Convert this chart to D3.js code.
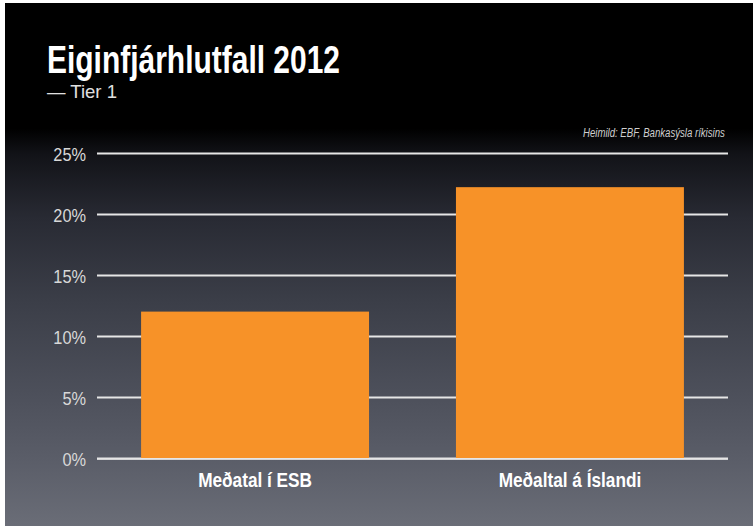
<!DOCTYPE html>
<html><head><meta charset="utf-8">
<script src="https://cdn.jsdelivr.net/npm/d3@7"></script>
<style>
html,body{margin:0;padding:0;background:#fff;}
svg{display:block;}
</style></head>
<body>
<svg id="chart" width="753" height="526"></svg>
<script>
const categories = ["Meðatal í ESB", "Meðaltal á Íslandi"];
const values = [12.0, 22.2];
const tickValues = [0, 5, 10, 15, 20, 25];
const tickLabels = ["0%", "5%", "10%", "15%", "20%", "25%"];
const title = "Eiginfjárhlutfall 2012";
const subtitle = "— Tier 1";
const source = "Heimild: EBF, Bankasýsla ríkisins";

const W = 753, H = 526;
const svg = d3.select("#chart");
const font = "'Liberation Sans', Arial, sans-serif";

function condense(sel, factor) {
  sel.each(function() {
    const len = this.getComputedTextLength();
    d3.select(this).attr("textLength", len * factor).attr("lengthAdjust", "spacingAndGlyphs");
  });
}
function fitWidth(sel, w) {
  sel.attr("textLength", w).attr("lengthAdjust", "spacingAndGlyphs");
}

const defs = svg.append("defs");
const grad = defs.append("linearGradient").attr("id","bg").attr("x1",0).attr("y1",0).attr("x2",0).attr("y2",1);
[[0,"#000000"],[0.24,"#000000"],[0.29,"#121318"],[0.41,"#282a33"],[0.57,"#3b3e48"],[0.76,"#4e515c"],[0.87,"#5a5d68"],[1,"#6a6d77"]]
  .forEach(([o,c]) => grad.append("stop").attr("offset",o).attr("stop-color",c));

svg.append("rect").attr("x",5).attr("y",3).attr("width",W-5).attr("height",H-3).attr("fill","url(#bg)");

const margin = {left: 97, right: 25};
const x = d3.scaleBand().domain(categories).range([margin.left, W - margin.right]).paddingInner(0.276).paddingOuter(0.14);
const y = d3.scaleLinear().domain([0, 25]).range([458, 153]);

// gridlines + y tick labels
const gridAxis = d3.axisLeft(y).tickValues(tickValues).tickSize(-(W - margin.right - margin.left)).tickFormat((d,i) => tickLabels[i]).tickPadding(11);
const g = svg.append("g").attr("transform", `translate(${margin.left},0)`).call(gridAxis);
g.select(".domain").remove();
g.selectAll(".tick line").attr("stroke","#e6e6e6").attr("stroke-width",2);
g.selectAll(".tick text").attr("fill","#d8d8d8").attr("font-family",font).attr("font-size",19).attr("dy","0.4em");
condense(g.selectAll(".tick text"), 0.86);

// bars
svg.append("g").selectAll("rect").data(values).join("rect")
  .attr("x",(d,i)=>x(categories[i]))
  .attr("width",x.bandwidth())
  .attr("y",d=>y(d))
  .attr("height",d=>y(0)-y(d))
  .attr("fill","#f79228");

// baseline over bars
svg.append("line").attr("x1",margin.left).attr("x2",W-margin.right).attr("y1",y(0)+1).attr("y2",y(0)+1).attr("stroke","#e6e6e6").attr("stroke-width",1.5);

// category labels
const xAxis = d3.axisBottom(x).tickSize(0).tickPadding(0);
const gx = svg.append("g").attr("transform",`translate(0,${y(0)})`).call(xAxis);
gx.select(".domain").remove();
gx.selectAll(".tick text").attr("fill","#ffffff").attr("font-family",font).attr("font-weight","bold").attr("font-size",21).attr("dy",29);
condense(gx.selectAll(".tick text"), 0.82);

// title
const t1 = svg.append("text").attr("x",47).attr("y",73).text(title)
  .attr("fill","#fff").attr("font-family",font).attr("font-weight","bold").attr("font-size",38);
fitWidth(t1, 293);
const t2 = svg.append("text").attr("x",47).attr("y",98).text(subtitle)
  .attr("fill","#e0e0e0").attr("font-family",font).attr("font-size",19);
fitWidth(t2, 70);

// source (condensed via a horizontal scale so its box stays inside the frame)
const srcG = svg.append("g");
const t3 = srcG.append("text").attr("x",0).attr("y",0).text(source)
  .attr("fill","#cfcfcf").attr("font-family",font).attr("font-style","italic").attr("font-size",12.5);
const srcW = t3.node().getComputedTextLength();
srcG.attr("transform", `translate(583,137) scale(${142 / srcW},1)`);
</script>
</body></html>
